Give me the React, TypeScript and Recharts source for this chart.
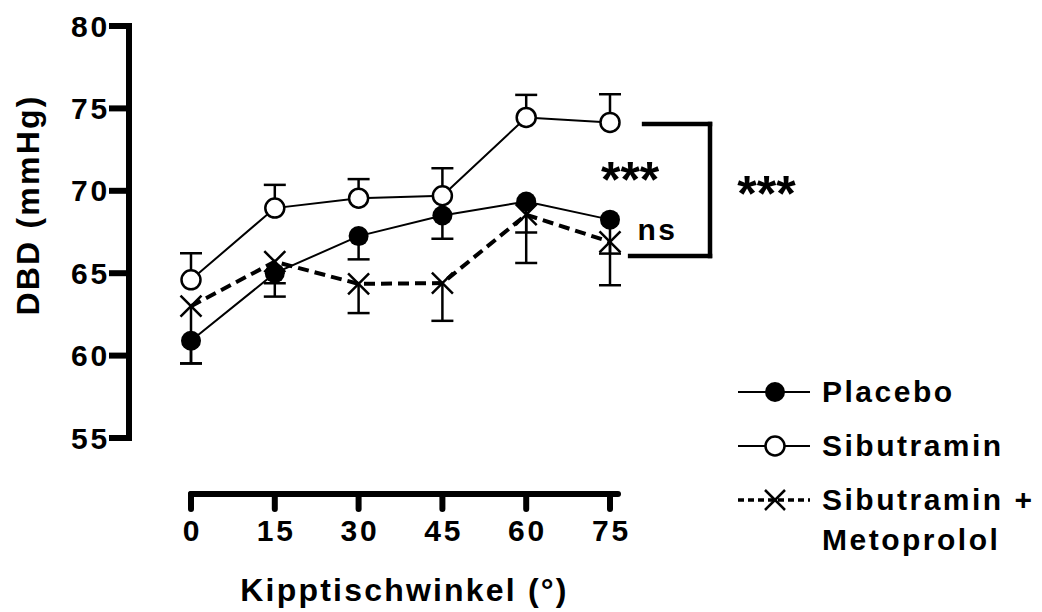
import React from 'react';
import { ComposedChart, Line, XAxis, YAxis, ErrorBar, ReferenceLine, ReferenceDot, Legend } from 'recharts';

// Kipptischwinkel (°)
const angles = [0, 15, 30, 45, 60, 75];
const xTicks = [0, 15, 30, 45, 60, 75];
const yTicks = [55, 60, 65, 70, 75, 80];

// DBD (mmHg): mean and SEM per group
const placebo = [60.9, 65.0, 67.25, 68.5, 69.35, 68.25];
const placeboSem = [1.37, 1.42, 1.41, 1.41, 1.88, 2.06];
const sibutramin = [64.6, 68.95, 69.55, 69.7, 74.45, 74.15];
const sibutraminSem = [1.61, 1.41, 1.16, 1.67, 1.37, 1.71];
const sibMeto = [63.0, 65.7, 64.35, 64.4, 68.55, 66.9];
const sibMetoSem = [3.48, 1.31, 1.77, 2.29, 2.93, 2.63];

// significance bracket, in axis units
const bracketHigh = 74.05;
const bracketLow = 66.05;
const bracketX = 92.9;
const bracketHighStart = 81.1;
const bracketLowStart = 78.6;

const significance = [
  { text: '***', x: 78.6, y: 69.6, size: 50 },
  { text: 'ns', x: 83.5, y: 67.0, size: 30 },
  { text: '***', x: 103.0, y: 68.75, size: 50 },
];

const data = angles.map((angle, i) => ({
  angle,
  placebo: placebo[i],
  placeboErr: [placeboSem[i], 0],
  placeboCap: placebo[i] - placeboSem[i],
  sib: sibutramin[i],
  sibErr: [0, sibutraminSem[i]],
  sibCap: sibutramin[i] + sibutraminSem[i],
  meto: sibMeto[i],
  metoErr: [sibMetoSem[i], 0],
  metoCap: sibMeto[i] - sibMetoSem[i],
}));

const FONT = '"Liberation Sans", Arial, Helvetica, sans-serif';
const tickStyle = { fontFamily: FONT, fontWeight: 700, fontSize: 30, letterSpacing: 2.8, fill: '#000' };
const titleStyle = { fontFamily: FONT, fontWeight: 700, fontSize: 32, letterSpacing: 2.2, fill: '#000' };

// the axes stand apart from the plot, as in Prism
const X_DROP = 56;
const Y_SHIFT = 62;
const css = `
.recharts-xAxis { transform: translate(0px, ${X_DROP}px); }
.recharts-yAxis { transform: translate(-${Y_SHIFT}px, 0px); }
`;

// tick labels are drawn in their own layer, so they carry the offset themselves
const XTick = (props: any) => {
  const { x, y, payload } = props;
  return (
    <text x={x} y={y + X_DROP} dy="0.71em" dx={1.4} textAnchor="middle" style={tickStyle}>
      {payload.value}
    </text>
  );
};

const YTick = (props: any) => {
  const { x, y, payload } = props;
  return (
    <text x={x - Y_SHIFT + 1} y={y} dy="0.355em" textAnchor="end" style={tickStyle}>
      {payload.value}
    </text>
  );
};

const XTitle = (props: any) => {
  const { x, y, width, height } = props.viewBox;
  return (
    <text x={x + width / 2} y={y + height + 47} textAnchor="middle" style={titleStyle}>
      Kipptischwinkel (°)
    </text>
  );
};

const YTitle = (props: any) => {
  const { x, y, height } = props.viewBox;
  const cx = x - 30.5;
  const cy = y + height / 2 - 27;
  return (
    <text x={cx} y={cy} transform={`rotate(-90 ${cx} ${cy})`} textAnchor="middle" style={titleStyle}>
      DBD (mmHg)
    </text>
  );
};

const AnnotationLabel = (props: any) => {
  const { viewBox, text, size } = props;
  const cx = viewBox.x + viewBox.width / 2;
  const cy = viewBox.y + viewBox.height / 2;
  return (
    <text x={cx} y={cy} textAnchor="middle" style={{ ...tickStyle, fontSize: size, letterSpacing: size > 40 ? 0 : 2.5 }}>
      {text}
    </text>
  );
};

const CrossDot = (props: any) => {
  const { cx, cy, index } = props;
  if (cx == null || cy == null) return <g key={index} />;
  const s = 10.5;
  return (
    <path
      key={index}
      d={`M${cx - s},${cy - s}L${cx + s},${cy + s}M${cx - s},${cy + s}L${cx + s},${cy - s}`}
      stroke="#000"
      strokeWidth={2.5}
      fill="none"
    />
  );
};

const CapDot = (props: any) => {
  const { cx, cy, index } = props;
  if (cx == null || cy == null) return <g key={index} />;
  return <line key={index} x1={cx - 11} x2={cx + 11} y1={cy} y2={cy} stroke="#000" strokeWidth={2.5} />;
};

const LEGEND_ORDER = ['placebo', 'sib', 'meto'];

const legendIcon = (key: string) => {
  if (key === 'placebo') {
    return (
      <g>
        <line x1={0} x2={72} y1={20} y2={20} stroke="#000" strokeWidth={2} />
        <circle cx={37} cy={20} r={10} fill="#000" />
      </g>
    );
  }
  if (key === 'sib') {
    return (
      <g>
        <line x1={0} x2={72} y1={20} y2={20} stroke="#000" strokeWidth={2} />
        <circle cx={37} cy={20} r={9.5} fill="#fff" stroke="#000" strokeWidth={2.5} />
      </g>
    );
  }
  return (
    <g>
      <line x1={0} x2={72} y1={20} y2={20} stroke="#000" strokeWidth={3.5} strokeDasharray="6 4" />
      <path d="M27,10L47,30M27,30L47,10" stroke="#000" strokeWidth={2.5} fill="none" />
    </g>
  );
};

const renderLegend = (props: any) => {
  const items = [...(props.payload || [])]
    .filter((p: any) => LEGEND_ORDER.includes(p.dataKey))
    .sort((a: any, b: any) => LEGEND_ORDER.indexOf(a.dataKey) - LEGEND_ORDER.indexOf(b.dataKey));
  return (
    <div style={{ fontFamily: FONT, fontWeight: 700, fontSize: 30, letterSpacing: 2.5, color: '#000', whiteSpace: 'nowrap' }}>
      {items.map((item: any, i: number) => {
        const parts = String(item.value).split(' + ');
        return (
          <div key={item.dataKey} style={{ display: 'flex', alignItems: 'flex-start', marginTop: i ? 14 : 0 }}>
            <svg width={84} height={40} style={{ flex: 'none' }}>
              {legendIcon(item.dataKey)}
            </svg>
            <div style={{ lineHeight: '40px' }}>
              {parts.map((t, j) => (
                <div key={j}>{j < parts.length - 1 ? `${t} +` : t}</div>
              ))}
            </div>
          </div>
        );
      })}
    </div>
  );
};

export default function App() {
  return (
    <div style={{ position: 'absolute', left: 0, top: 0, width: 1042, height: 612, background: '#fff' }}>
      <style>{css}</style>
      <ComposedChart width={1042} height={612} data={data} margin={{ top: 26, right: 424, bottom: 114, left: 131 }}>
        <XAxis
          dataKey="angle"
          type="number"
          domain={[0, 75]}
          ticks={xTicks}
          padding={{ left: 0, right: 8 }}
          height={60}
          axisLine={{ stroke: '#000', strokeWidth: 6, strokeLinecap: 'round' }}
          tickLine={{ stroke: '#000', strokeWidth: 6, strokeLinecap: 'round' }}
          tickSize={15}
          tickMargin={11}
          tick={XTick}
          label={{ content: XTitle }}
        />
        <YAxis
          type="number"
          domain={[55, 80]}
          ticks={yTicks}
          width={60}
          axisLine={{ stroke: '#000', strokeWidth: 6, strokeLinecap: 'square' }}
          tickLine={{ stroke: '#000', strokeWidth: 6 }}
          tickSize={20}
          tickMargin={0}
          tick={YTick}
          label={{ content: YTitle }}
        />

        <Line dataKey="metoCap" stroke="none" dot={CapDot} legendType="none" isAnimationActive={false} />
        <Line dataKey="sibCap" stroke="none" dot={CapDot} legendType="none" isAnimationActive={false} />
        <Line dataKey="placeboCap" stroke="none" dot={CapDot} legendType="none" isAnimationActive={false} />

        <Line
          dataKey="meto"
          name="Sibutramin + Metoprolol"
          stroke="#000"
          strokeWidth={4}
          strokeDasharray="11 6"
          dot={CrossDot}
          isAnimationActive={false}
        >
          <ErrorBar dataKey="metoErr" width={0} stroke="#000" strokeWidth={2.5} isAnimationActive={false} />
        </Line>
        <Line
          dataKey="sib"
          name="Sibutramin"
          stroke="#000"
          strokeWidth={2}
          dot={{ r: 9.5, fill: '#fff', stroke: '#000', strokeWidth: 2.5 }}
          isAnimationActive={false}
        >
          <ErrorBar dataKey="sibErr" width={0} stroke="#000" strokeWidth={2.5} isAnimationActive={false} />
        </Line>
        <Line
          dataKey="placebo"
          name="Placebo"
          stroke="#000"
          strokeWidth={2}
          dot={{ r: 10, fill: '#000', stroke: '#000', strokeWidth: 0 }}
          isAnimationActive={false}
        >
          <ErrorBar dataKey="placeboErr" width={0} stroke="#000" strokeWidth={2.5} isAnimationActive={false} />
        </Line>

        <ReferenceLine
          segment={[{ x: bracketHighStart, y: bracketHigh }, { x: bracketX, y: bracketHigh }]}
          stroke="#000"
          strokeWidth={4.5}
          strokeLinecap="square"
          ifOverflow="visible"
        />
        <ReferenceLine
          segment={[{ x: bracketX, y: bracketHigh }, { x: bracketX, y: bracketLow }]}
          stroke="#000"
          strokeWidth={4.5}
          strokeLinecap="square"
          ifOverflow="visible"
        />
        <ReferenceLine
          segment={[{ x: bracketLowStart, y: bracketLow }, { x: bracketX, y: bracketLow }]}
          stroke="#000"
          strokeWidth={4.5}
          strokeLinecap="square"
          ifOverflow="visible"
        />
        {significance.map((s, i) => (
          <ReferenceDot
            key={i}
            x={s.x}
            y={s.y}
            r={0}
            stroke="none"
            ifOverflow="visible"
            label={<AnnotationLabel text={s.text} size={s.size} />}
          />
        ))}

        <Legend
          content={renderLegend}
          layout="horizontal"
          verticalAlign="middle"
          align="center"
          wrapperStyle={{ left: 738, top: 372, width: 304 }}
        />
      </ComposedChart>
    </div>
  );
}
